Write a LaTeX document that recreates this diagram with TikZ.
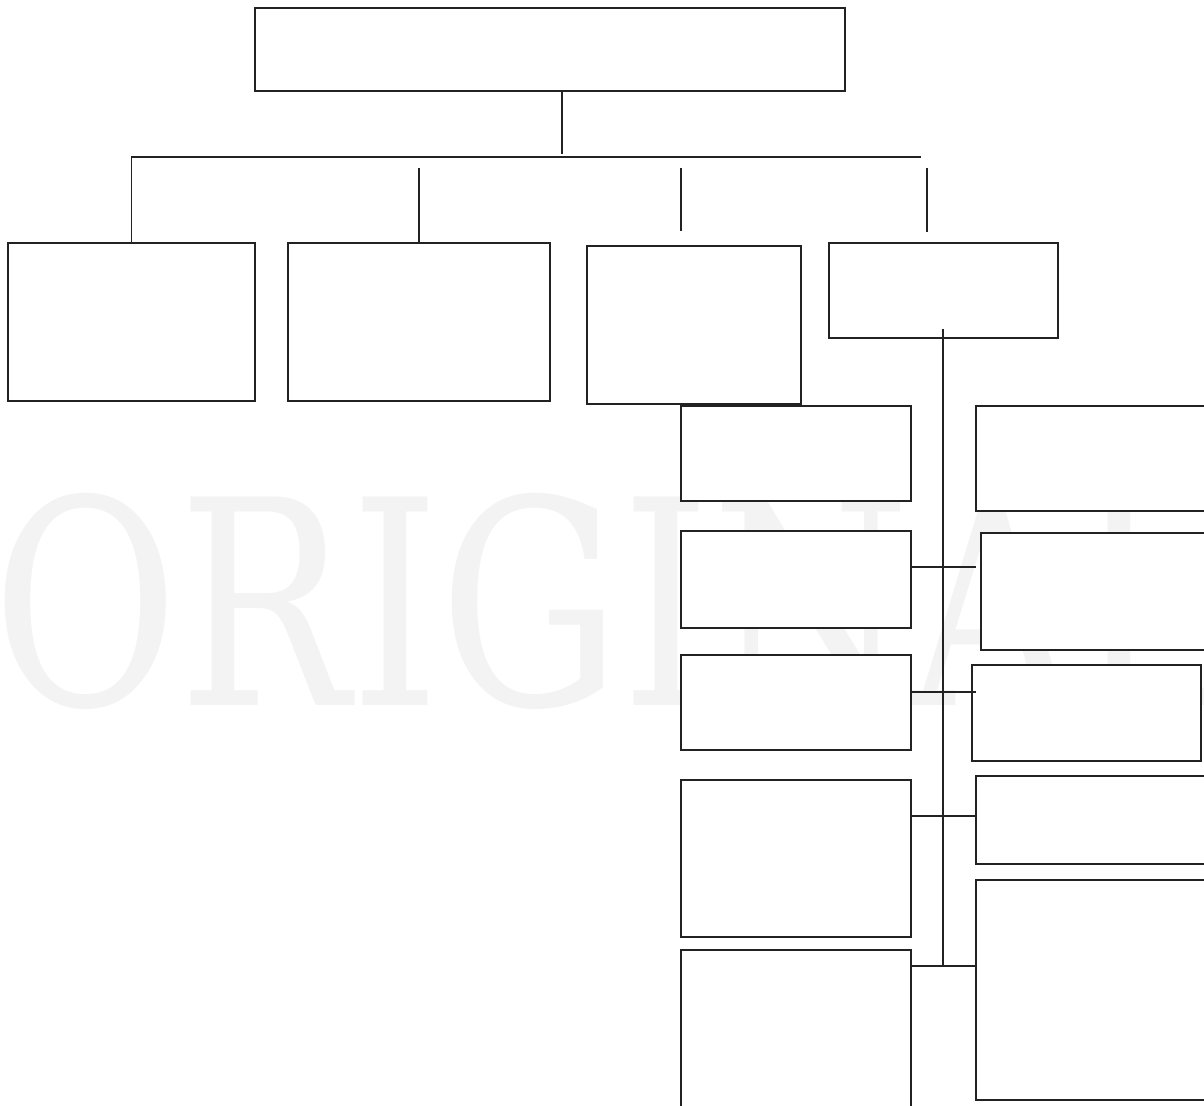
\documentclass[tikz,border=0pt]{standalone}
\usepackage{fontspec}
\newfontfamily\wmfont[FakeStretch=0.795]{DejaVu Serif}
\definecolor{wmgray}{HTML}{F3F3F3}
\definecolor{linec}{HTML}{222222}
\tikzset{
  box/.style={draw=linec, fill=white, line width=0.65pt, rectangle, inner sep=0pt, outer sep=0pt},
  conn/.style={draw=linec, line width=0.65pt},
  wm/.style={text=wmgray, inner sep=0pt, anchor=base west, font=\wmfont\fontsize{143}{143}\selectfont}
}
\newcommand\mybx[5]{\node[box, minimum width=#4*0.5pt, minimum height=#5*0.5pt] (#1) at ({#2+#4/2},{#3+#5/2}) {};}
\begin{document}
\begin{tikzpicture}[x=0.5pt, y=-0.5pt]
\useasboundingbox (0,0) rectangle (1204,1106);
\clip (0,0) rectangle (1204,1106);
\fill[white] (0,0) rectangle (1204,1106);
% watermark
\node[wm] (wmark) at (-8,705) {ORIGINAL};
% boxes
\mybx{top}{255}{8}{590}{83}
\mybx{b1}{8}{243}{247}{158}
\mybx{b2}{288}{243}{262}{158}
\mybx{b3}{587}{246}{214}{158}
\mybx{b4}{829}{243}{229}{95}
\mybx{L1}{681}{406}{230}{95}
\mybx{L2}{681}{531}{230}{97}
\mybx{L3}{681}{655}{230}{95}
\mybx{L4}{681}{780}{230}{157}
\mybx{L5}{681}{950}{230}{220}
\mybx{R1}{976}{406}{240}{105}
\mybx{R2}{981}{533}{235}{117}
\mybx{R3}{972}{665}{229}{96}
\mybx{R4}{976}{776}{240}{88}
\mybx{R5}{976}{880}{240}{220}
% coordinates
\coordinate (s0) at (562,154);
\coordinate (barL) at (131,157);
\coordinate (barR) at (921,157);
\coordinate (s2a) at (419,168);
\coordinate (s3a) at (681,168);
\coordinate (s3b) at (681,231);
\coordinate (s4a) at (927,168);
\coordinate (s4b) at (927,232);
\coordinate (t0) at (943,329);
\coordinate (t1) at (943,966);
\coordinate (h1) at (976,567);
\coordinate (h2) at (976,692);
\coordinate (h3) at (976,816);
% connectors
\draw[conn] (top.south -| s0) -- (s0);
\draw[conn] (barL) -- (barR);
\draw[conn] (b1.north |- barL) -- (b1.north);
\draw[conn] (s2a) -- (b2.north);
\draw[conn] (s3a) -- (s3b);
\draw[conn] (s4a) -- (s4b);
\draw[conn] (t0) -- (t1);
\draw[conn] (L2.east |- h1) -- (h1);
\draw[conn] (L3.east |- h2) -- (h2);
\draw[conn] (L4.east |- h3) -- (R4.west |- h3);
\draw[conn] (L5.east |- t1) -- (R5.west |- t1);
\end{tikzpicture}
\end{document}
